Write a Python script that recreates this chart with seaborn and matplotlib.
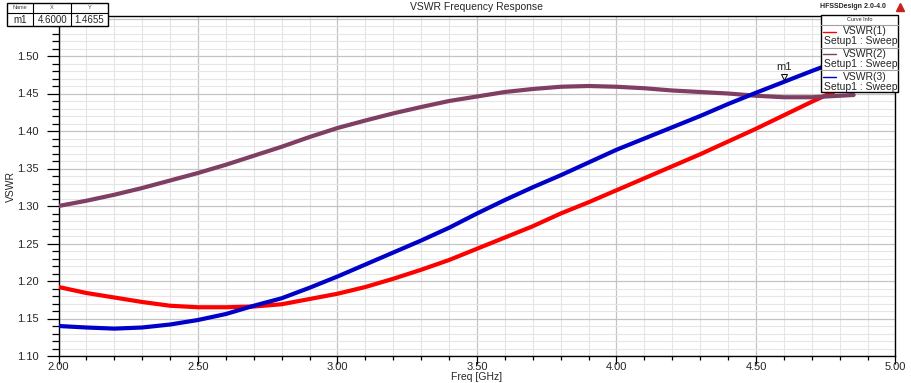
import numpy as np
import pandas as pd
import matplotlib
matplotlib.use('Agg')
import matplotlib.pyplot as plt
from matplotlib.patches import Rectangle
from matplotlib.ticker import MultipleLocator, FormatStrFormatter
import seaborn as sns

# data
freq = [2.0, 2.1, 2.2, 2.3, 2.4, 2.5, 2.6, 2.7, 2.8, 2.9,
        3.0, 3.1, 3.2, 3.3, 3.4, 3.5, 3.6, 3.7, 3.8, 3.9,
        4.0, 4.1, 4.2, 4.3, 4.4, 4.5, 4.6, 4.7, 4.8, 4.85]
vswr1 = [1.192, 1.184, 1.178, 1.172, 1.167, 1.165, 1.165, 1.166, 1.169, 1.176,
         1.183, 1.192, 1.203, 1.215, 1.228, 1.243, 1.258, 1.273, 1.290, 1.305,
         1.321, 1.337, 1.353, 1.369, 1.386, 1.403, 1.421, 1.439, 1.456, 1.465]
vswr2 = [1.300, 1.307, 1.315, 1.324, 1.334, 1.344, 1.355, 1.367, 1.379, 1.392,
         1.404, 1.414, 1.4235, 1.432, 1.440, 1.446, 1.452, 1.456, 1.459, 1.460,
         1.459, 1.457, 1.454, 1.452, 1.450, 1.447, 1.445, 1.445, 1.447, 1.448]
vswr3 = [1.140, 1.138, 1.1365, 1.138, 1.142, 1.148, 1.156, 1.167, 1.177, 1.191,
         1.206, 1.222, 1.238, 1.254, 1.271, 1.290, 1.308, 1.325, 1.341, 1.358,
         1.375, 1.390, 1.405, 1.420, 1.436, 1.451, 1.4655, 1.480, 1.494, 1.501]
curve_names = ['VSWR(1)', 'VSWR(2)', 'VSWR(3)']
curve_colors = ['#ff0000', '#7f3f62', '#0000c8']
marker_name = 'm1'
marker_x = 4.6
marker_y = 1.4655

df = pd.DataFrame({'Freq': freq * 3,
                   'VSWR': vswr1 + vswr2 + vswr3,
                   'Curve': [c for c in curve_names for _ in freq]})

sns.set_style('white')
plt.rcParams['font.family'] = ['Liberation Sans', 'DejaVu Sans']

W, H = 912, 383
fig = plt.figure(figsize=(W / 100, H / 100), dpi=100)
ax = fig.add_axes([58.5 / W, 1 - 356 / H, (895.5 - 58.5) / W, (356 - 16) / H])

sns.lineplot(data=df, x='Freq', y='VSWR', hue='Curve', hue_order=curve_names,
             palette=curve_colors, linewidth=3, legend=False, ax=ax, zorder=3)

ax.set_xlim(2.0, 5.0)
ax.set_ylim(1.10, 1.10 + 340 / 750)
ax.xaxis.set_major_locator(MultipleLocator(0.5))
ax.xaxis.set_minor_locator(MultipleLocator(0.1))
ax.yaxis.set_major_locator(MultipleLocator(0.05))
ax.yaxis.set_minor_locator(MultipleLocator(0.01))
ax.xaxis.set_major_formatter(FormatStrFormatter('%.2f'))
ax.yaxis.set_major_formatter(FormatStrFormatter('%.2f'))
ax.grid(which='major', color='#c4c4c4', linewidth=0.9, zorder=0)
ax.grid(which='minor', color='#e6e6e6', linewidth=0.8, zorder=0)
ax.set_axisbelow(True)
ax.tick_params(axis='y', which='major', direction='out', length=9, width=0.9,
               labelsize=8, pad=5, left=True, color='black')
ax.tick_params(axis='y', which='minor', direction='out', length=5, width=0.9,
               left=True, color='black')
ax.tick_params(axis='x', which='major', direction='out', length=6, width=0.9,
               labelsize=8, pad=-2, bottom=True, color='black')
ax.tick_params(axis='x', which='minor', direction='out', length=3, width=0.9,
               bottom=True, color='black')
for s in ax.spines.values():
    s.set_color('black')
    s.set_linewidth(1.0)
ax.set_xlabel('Freq [GHz]', fontsize=7.5, labelpad=0)
ax.set_ylabel('VSWR', fontsize=7.5, labelpad=1)
ax.set_title('VSWR Frequency Response', fontsize=7.5, pad=4)

# marker m1
ax.plot([marker_x], [marker_y + 0.006], marker='v', markersize=4,
        markerfacecolor='none', markeredgecolor='black', markeredgewidth=0.7, zorder=5)
ax.annotate(marker_name, (marker_x, marker_y), xytext=(0, 7), textcoords='offset points',
            ha='center', va='bottom', fontsize=8, zorder=5)

# overlay for table, legend, header text (pixel coords)
ov = fig.add_axes([0, 0, 1, 1], zorder=10)
ov.set_xlim(0, W)
ov.set_ylim(H, 0)
ov.axis('off')

# marker table
ov.add_patch(Rectangle((7, 3), 101, 23, facecolor='white', edgecolor='black', linewidth=1))
ov.plot([7, 108], [12.5, 12.5], color='black', linewidth=0.8)
for xc in [33.5, 71]:
    ov.plot([xc, xc], [3, 26], color='black', linewidth=0.8)
for xc, t in [(20, 'Name'), (52, 'X'), (89.5, 'Y')]:
    ov.text(xc, 7.5, t, fontsize=4, ha='center', va='center', color='#444444')
for xc, t in [(20, marker_name), (52.5, '%.4f' % marker_x), (89.5, '%.4f' % marker_y)]:
    ov.text(xc, 20, t, fontsize=7, ha='center', va='center')

# curve info legend
ov.add_patch(Rectangle((821.5, 15), 76.5, 77, facecolor='white', edgecolor='black', linewidth=1))
ov.text(859.5, 19.5, 'Curve Info', fontsize=4, ha='center', va='center')
for yy in [25, 47.7, 70]:
    ov.plot([821.5, 898], [yy, yy], color='#a0a0a0', linewidth=0.8)
for i, (name, col) in enumerate(zip(curve_names, curve_colors)):
    y0 = 31.5 + i * 22.6
    ov.plot([823, 836], [y0, y0], color=col, linewidth=1)
    ov.text(843, y0, name, fontsize=7.5, ha='left', va='center')
    ov.text(824, y0 + 9.8, 'Setup1 : Sweep', fontsize=7.5, ha='left', va='center')

ov.text(853, 6, 'HFSSDesign 2.0-4.0', fontsize=5, fontweight='bold', ha='center', va='center')
ov.plot([900], [7], marker='^', markersize=6, color='#cc2020')

fig.savefig('out.png', dpi=100)
